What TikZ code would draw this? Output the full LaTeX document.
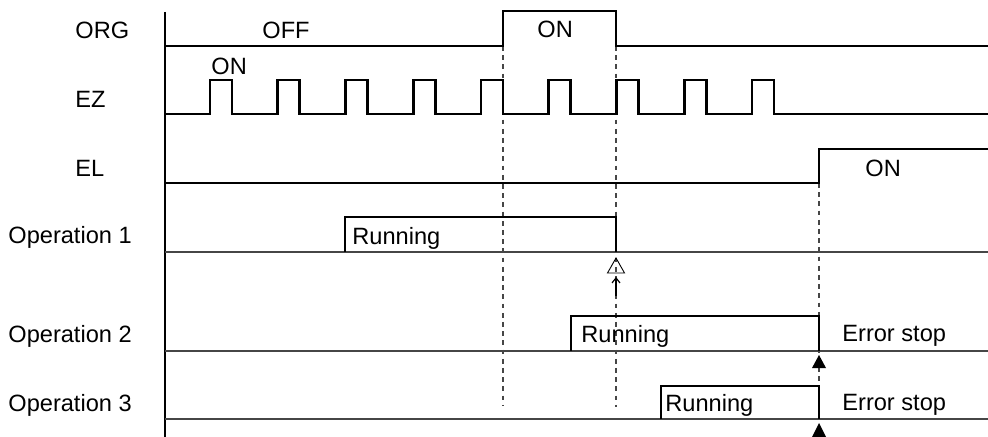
\documentclass[tikz,border=0pt]{standalone}
\usepackage{fontspec}
\setmainfont{Liberation Sans}
\usetikzlibrary{arrows.meta}
\definecolor{ink}{RGB}{0,0,0}
\definecolor{rule}{RGB}{70,70,70}

\begin{document}
\begin{tikzpicture}[
    x=0.5pt, y=-0.5pt,
    sig/.style={ink, line width=1.3pt, line join=miter},
    base/.style={rule, line width=0.8pt},
    guide/.style={rule, line width=0.75pt, dash pattern=on 2.4pt off 2.2pt},
    lbl/.style={anchor=west, inner sep=0pt, font=\fontsize{11.8}{14}\selectfont},
  ]
  \useasboundingbox (0,0) rectangle (988,437);

  % guide lines
  \draw[guide] (503,46) -- (503,405);
  \draw[guide] (616,46) -- (616,407);
  \draw[guide] (819,183) -- (819,421);

  % row names
  \node[lbl] (org) at (75,30) {ORG};
  \node[lbl] (ez) at (75,99) {EZ};
  \node[lbl] (el) at (75,168) {EL};
  \node[lbl] (op1) at (8,237) {Operation 1};
  \node[lbl] (op2) at (8,336) {Operation 2};
  \node[lbl] (op3) at (8,405) {Operation 3};

  \draw[ink, line width=0.8pt] (165,12) -- (165,437);

  % ORG
  \draw[sig] (165,46) -- (503,46) -- (503,11) -- (616,11) -- (616,46) -- (988,46);
  \node[lbl] (orgoff) at (262,30) {OFF};
  \node[lbl] (orgon) at (537,29) {ON};

  % EZ pulses
  \draw[sig] (165,114)
    \foreach \i in {0,...,8} {
      -- ({210+67.75*\i},114) -- ({210+67.75*\i},80)
      -- ({232+67.75*\i},80) -- ({232+67.75*\i},114)
    } -- (988,114);
  \node[lbl] (ezon) at (211,66) {ON};

  % EL
  \draw[sig] (165,183) -- (819,183) -- (819,149) -- (988,149);
  \node[lbl] (elon) at (865,168) {ON};

  % operations
  \draw[base] (165,252) -- (988,252);
  \draw[sig] (345,252) -- (345,217) -- (616,217) -- (616,252);
  \node[lbl] (run1) at (352,238) {Running};

  \draw[base] (165,351) -- (988,351);
  \draw[sig] (571,351) -- (571,316) -- (819,316) -- (819,351);
  \node[lbl] (run2) at (581,336) {Running};
  \node[lbl] (err2) at (842,336) {Error stop};

  \draw[base] (165,419) -- (988,419);
  \draw[sig] (661,419) -- (661,386) -- (819,386) -- (819,419);
  \node[lbl] (run3) at (665,405) {Running};
  \node[lbl] (err3) at (842,405) {Error stop};

  % triggers
  \draw[ink, line width=0.45pt] (616,258) -- (624.5,273) -- (607.5,273) -- cycle;
  \draw[ink, line width=0.6pt, -{Straight Barb[length=2.5pt, width=4pt]}] (616,296) -- (616,277);
  \fill[ink] (819,355) -- (826,368) -- (812,368) -- cycle;
  \fill[ink] (819,423) -- (826,437) -- (812,437) -- cycle;
\end{tikzpicture}
\end{document}
